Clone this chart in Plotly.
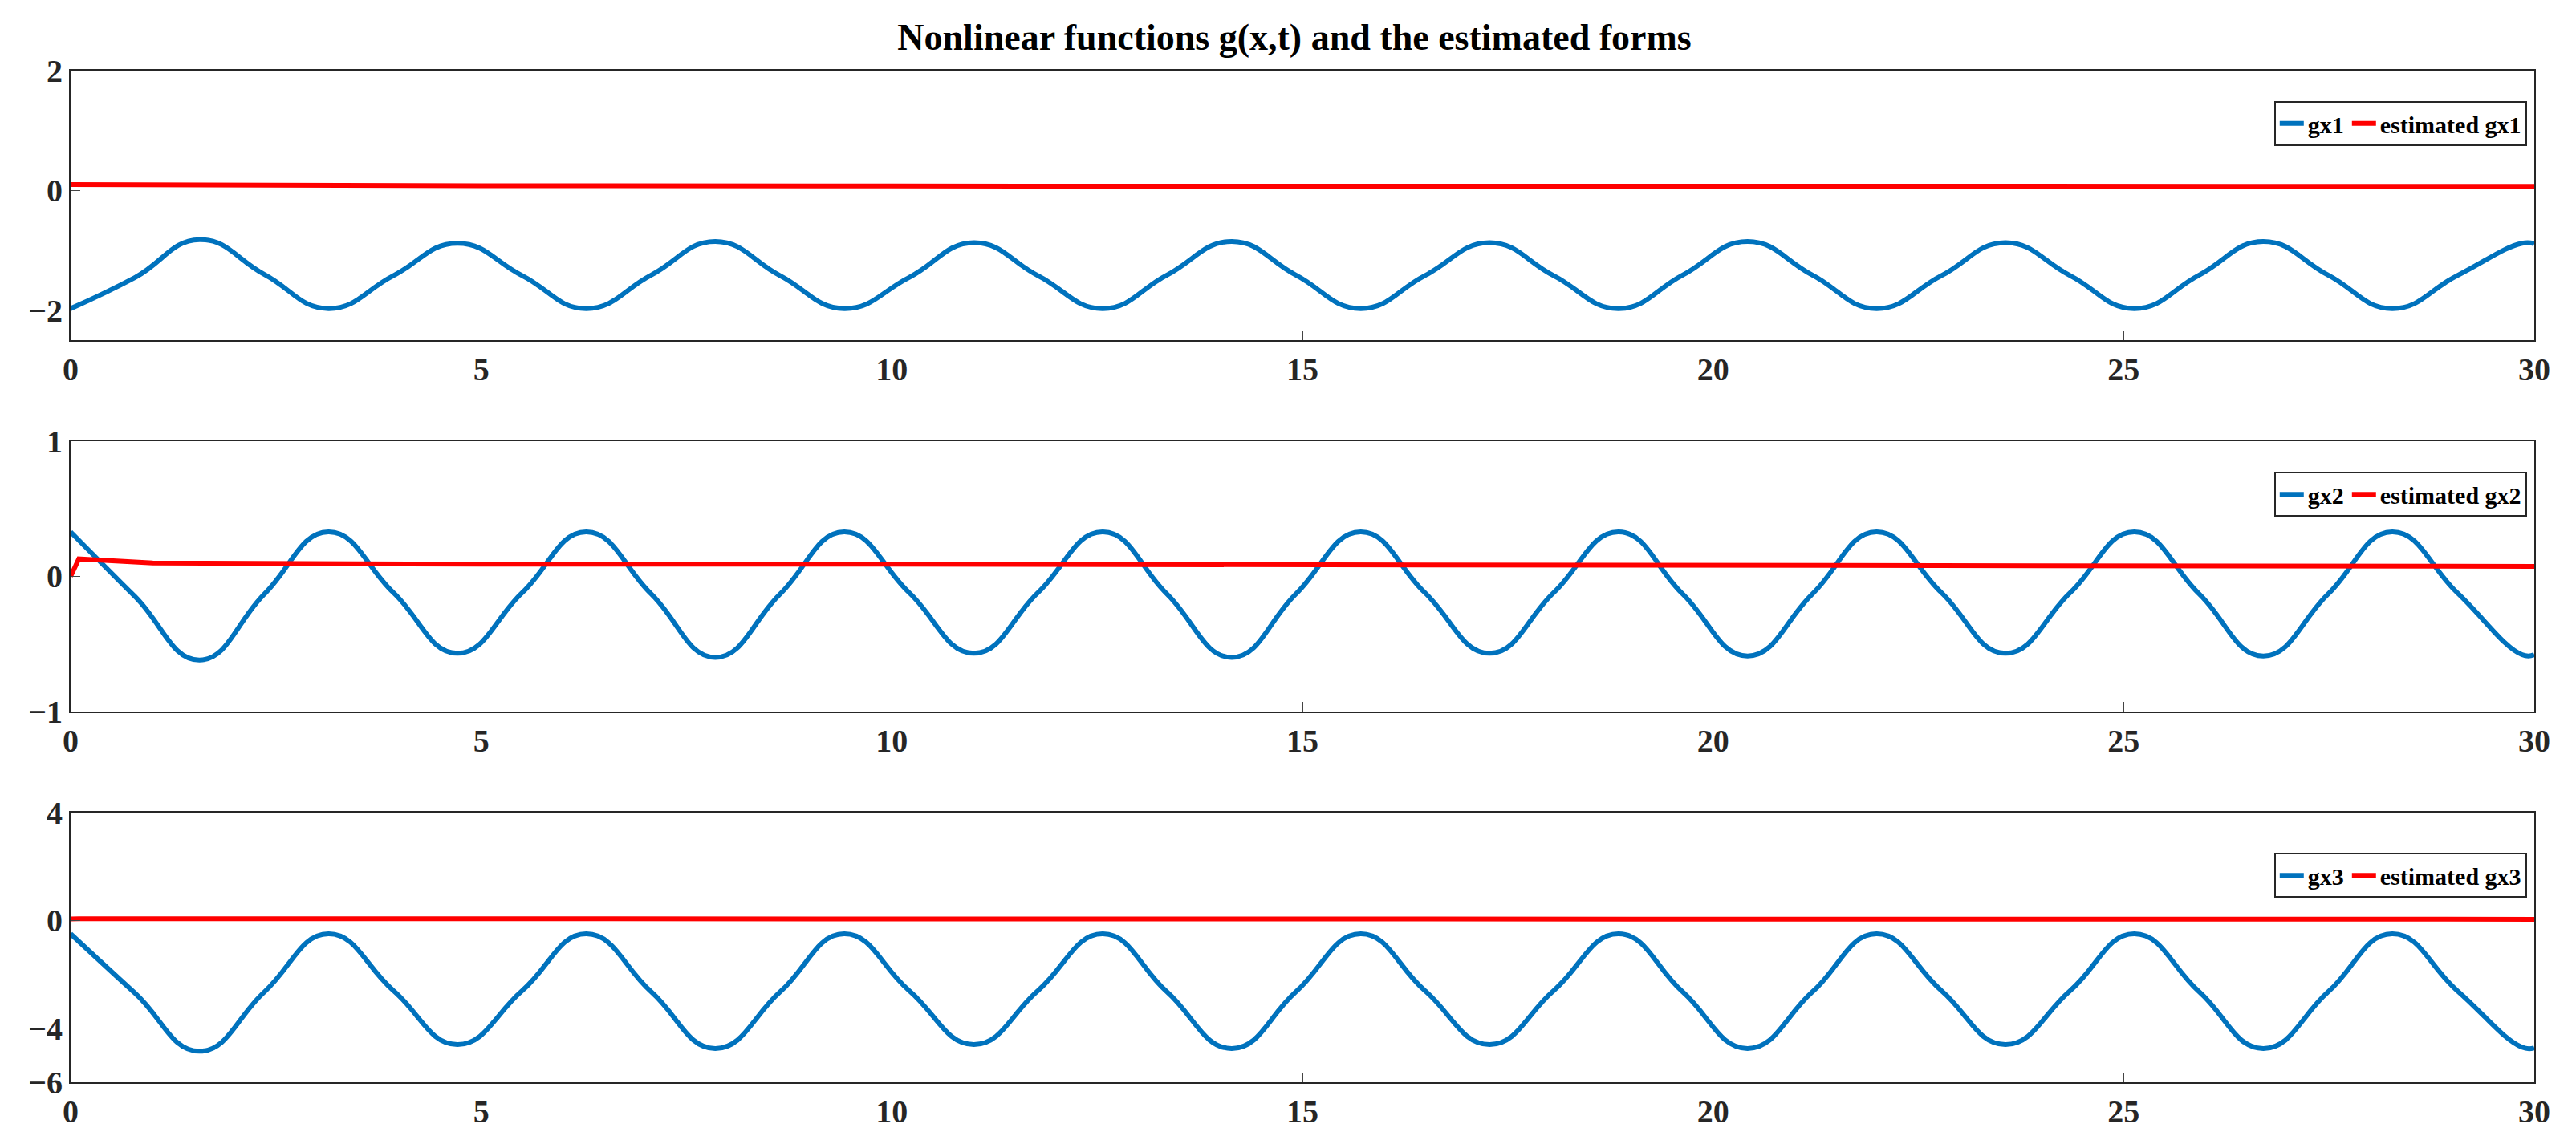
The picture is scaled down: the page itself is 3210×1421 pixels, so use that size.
import plotly.graph_objects as go
from plotly.subplots import make_subplots

t = [0, 0.785, 1.57, 2.36, 3.14, 3.93, 4.71, 5.50, 6.28, 7.07, 7.85, 8.64, 9.42, 10.21,
     11.0, 11.78, 12.57, 13.35, 14.14, 14.92, 15.71, 16.49, 17.28, 18.06, 18.85, 19.63,
     20.42, 21.21, 21.99, 22.78, 23.56, 24.35, 25.13, 25.92, 26.7, 27.49, 28.27, 29.06, 29.85, 30.0]

gx1 = [-1.97, -1.45, -0.82, -1.4, -1.97, -1.42, -0.88, -1.42, -1.97, -1.41, -0.85, -1.42,
       -1.97, -1.45, -0.87, -1.42, -1.97, -1.41, -0.85, -1.41, -1.97, -1.42, -0.87, -1.42,
       -1.97, -1.41, -0.85, -1.41, -1.97, -1.42, -0.87, -1.42, -1.97, -1.41, -0.85, -1.41,
       -1.97, -1.42, -0.88, -0.89]
gx2 = [0.33, -0.15, -0.62, -0.13, 0.33, -0.12, -0.57, -0.12, 0.33, -0.13, -0.60, -0.13,
       0.33, -0.12, -0.57, -0.12, 0.33, -0.13, -0.60, -0.13, 0.33, -0.12, -0.57, -0.12,
       0.33, -0.13, -0.59, -0.13, 0.33, -0.12, -0.57, -0.12, 0.33, -0.13, -0.59, -0.13,
       0.33, -0.12, -0.58, -0.58]
gx3 = [-0.5, -2.7, -4.85, -2.65, -0.5, -2.6, -4.6, -2.6, -0.5, -2.65, -4.75, -2.65,
       -0.5, -2.6, -4.6, -2.6, -0.5, -2.65, -4.75, -2.65, -0.5, -2.6, -4.6, -2.6,
       -0.5, -2.65, -4.75, -2.65, -0.5, -2.6, -4.6, -2.6, -0.5, -2.65, -4.75, -2.65,
       -0.5, -2.6, -4.7, -4.72]

te = [0, 0.1, 1, 5, 10, 15, 20, 25, 30]
est1 = [0.1, 0.1, 0.09, 0.08, 0.075, 0.07, 0.07, 0.07, 0.07]
est2 = [0.0, 0.13, 0.1, 0.09, 0.09, 0.085, 0.08, 0.08, 0.075]
est3 = [0.05, 0.06, 0.06, 0.055, 0.05, 0.05, 0.05, 0.05, 0.04]

blue = "#0072BD"
red = "#FF0000"
font = "Liberation Serif"

fig = make_subplots(rows=3, cols=1, vertical_spacing=0.1)
series = [(gx1, est1, "gx1"), (gx2, est2, "gx2"), (gx3, est3, "gx3")]
for i, (g, e, n) in enumerate(series, start=1):
    lg = "legend" if i == 1 else f"legend{i}"
    fig.add_trace(go.Scatter(x=t, y=g, mode="lines",
                             line=dict(color=blue, width=6, shape="spline", smoothing=1.3),
                             name=n, legend=lg), row=i, col=1)
    fig.add_trace(go.Scatter(x=te, y=e, mode="lines", line=dict(color=red, width=6),
                             name="estimated " + n, legend=lg), row=i, col=1)

yr = [[-2.5, 2], [-1, 1], [-6, 4]]
yt = [[-2, 0, 2], [-1, 0, 1], [-6, -4, 0, 4]]
tf = dict(size=40, family=font, color="#262626", weight="bold")
for i in range(1, 4):
    fig.update_xaxes(range=[0, 30], dtick=5, row=i, col=1, ticks="inside", ticklen=12,
                     showline=True, mirror=True, linecolor="#262626", linewidth=2,
                     showgrid=False, zeroline=False, tickfont=tf)
    fig.update_yaxes(range=yr[i-1], tickvals=yt[i-1], row=i, col=1, ticks="inside", ticklen=12,
                     showline=True, mirror=True, linecolor="#262626", linewidth=2,
                     showgrid=False, zeroline=False, tickfont=tf)

leg = dict(orientation="h", xanchor="right", yanchor="top", bgcolor="white",
           bordercolor="#262626", borderwidth=2,
           font=dict(size=30, family=font, color="black", weight="bold"))
dom = [fig.layout.yaxis.domain, fig.layout.yaxis2.domain, fig.layout.yaxis3.domain]
fig.update_layout(
    width=3210, height=1421, plot_bgcolor="white", paper_bgcolor="white",
    margin=dict(l=80, r=60, t=80, b=80),
    title=dict(text="<b>Nonlinear functions g(x,t) and the estimated forms</b>", x=0.5, y=0.985,
               font=dict(size=46, family=font, color="black")),
    legend=dict(leg, x=0.997, y=dom[0][1] - 0.03),
    legend2=dict(leg, x=0.997, y=dom[1][1] - 0.03),
    legend3=dict(leg, x=0.997, y=dom[2][1] - 0.04),
)
fig.write_html("out.html")
